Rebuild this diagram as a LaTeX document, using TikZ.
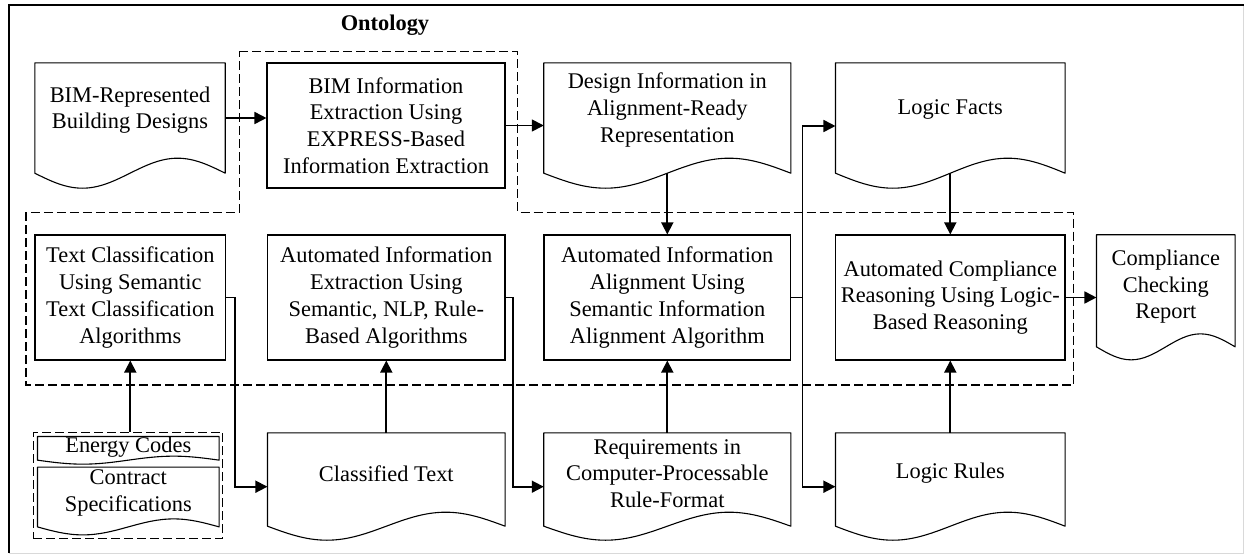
\documentclass[tikz,border=0pt]{standalone}
\usepackage{fontspec}
\setmainfont{Liberation Serif}
\usetikzlibrary{arrows.meta,calc}
\newcommand\labelfont{\fontsize{22.4}{26.7}\selectfont}
% wavy "document" outline drawn around a named frame node; #2 = wave amplitude
\newcommand\docoutline[2]{%
  \draw[docline] (#1.south west) -- (#1.north west) -- (#1.north east) -- (#1.south east)
    sin ($(#1.south east)!0.25!(#1.south west)+(0,-#2)$)
    cos ($(#1.south east)!0.5!(#1.south west)$)
    sin ($(#1.south east)!0.75!(#1.south west)+(0,#2)$)
    cos (#1.south west) -- cycle;}
\tikzset{
  procbox/.style={draw, line width=1.1pt, rectangle, inner sep=0pt, align=center, font=\labelfont},
  docframe/.style={rectangle, inner sep=0pt},
  doctext/.style={inner sep=0pt, align=center, font=\labelfont},
  docline/.style={line width=1.1pt, line join=round},
  groupline/.style={line width=1.2pt, dash pattern=on 9pt off 4pt},
  flow/.style={line width=1.7pt, -{Triangle[length=12pt,width=12pt]}},
}
\begin{document}
\begin{tikzpicture}[x=1pt,y=-1pt]
\useasboundingbox (0,0) rectangle (1245,554);
\fill[white] (0,0) rectangle (1245,554);
% outer frame
\draw[black!15, line width=1pt] (1243.5,5) -- (1243.5,553) -- (9,553);
\draw[line width=2.2pt] (9,553) -- (9,5) -- (1243.5,5);

% ontology group outline
\draw[groupline] (239.3,51.7) -- (517.7,51.7) -- (517.7,212.5) -- (1073.3,212.5)
  -- (1073.3,385) -- (26,385) -- (26,212.5) -- (239.3,212.5) -- cycle;
\node[font=\labelfont\bfseries] (onto) at (385,25) {Ontology};

% process boxes
\node[procbox, minimum width=238pt, minimum height=125pt] (bimext) at (386,125.5)
  {BIM Information\\Extraction Using\\EXPRESS-Based\\Information Extraction};
\node[procbox, minimum width=190.7pt, minimum height=125pt] (textcls) at (130.3,297.5)
  {Text Classification\\Using Semantic\\Text Classification\\Algorithms};
\node[procbox, minimum width=237.3pt, minimum height=125pt] (infoext) at (386.3,297.5)
  {Automated Information\\Extraction Using\\Semantic, NLP, Rule-\\Based Algorithms};
\node[procbox, minimum width=246.7pt, minimum height=125pt] (align) at (667.3,297.5)
  {Automated Information\\Alignment Using\\Semantic Information\\Alignment Algorithm};
\node[procbox, minimum width=229.3pt, minimum height=125pt] (reason) at (950.3,297.5)
  {Automated Compliance\\Reasoning Using Logic-\\Based Reasoning};

% document frames
\node[docframe, minimum width=190pt, minimum height=110pt] (bimrep) at (130,118) {};
\node[docframe, minimum width=246.7pt, minimum height=110pt] (design) at (667.3,118) {};
\node[docframe, minimum width=229.3pt, minimum height=110pt] (facts) at (950.3,118) {};
\node[docframe, minimum width=138.3pt, minimum height=111.7pt] (report) at (1165.8,290.8) {};
\node[docframe, minimum width=237.3pt, minimum height=93pt] (classified) at (386.3,479.5) {};
\node[docframe, minimum width=246.7pt, minimum height=93pt] (reqs) at (667.3,479.5) {};
\node[docframe, minimum width=229.3pt, minimum height=93pt] (rules) at (950.3,479.5) {};
\node[docframe, minimum width=181.3pt, minimum height=23.3pt] (energy) at (128.3,448.3) {};
\node[docframe, minimum width=181.3pt, minimum height=59.4pt] (contract) at (128.3,497) {};

\foreach \n/\a in {bimrep/15, design/15, facts/15, report/13, classified/14,
                   reqs/14, rules/14, energy/4, contract/8}{
  \docoutline{\n}{\a}
}

% document texts
\node[doctext] (bimrep-t) at ([yshift=8pt]bimrep.center) {BIM-Represented\\Building Designs};
\node[doctext] (design-t) at ([yshift=8pt]design.center) {Design Information in\\Alignment-Ready\\Representation};
\node[doctext] (facts-t) at ([yshift=8pt]facts.center) {Logic Facts};
\node[doctext] (report-t) at ([yshift=4pt]report.center) {Compliance\\Checking\\Report};
\node[doctext] (classified-t) at ([yshift=6pt]classified.center) {Classified Text};
\node[doctext] (reqs-t) at ([yshift=6pt]reqs.center) {Requirements in\\Computer-Processable\\Rule-Format};
\node[doctext] (rules-t) at ([yshift=6pt]rules.center) {Logic Rules};
\node[doctext] (energy-t) at ([yshift=1.5pt]energy.center) {Energy Codes};
\node[doctext] (contract-t) at ([yshift=4pt]contract.center) {Contract\\Specifications};

% source documents group
\node[draw, groupline, rectangle, inner sep=0pt, minimum width=189.4pt, minimum height=106.4pt]
  (srcs) at (128,485.5) {};

% connectors
\draw[flow] (bimrep.east) -- (bimrep.east -| bimext.west);
\draw[flow] (bimext.east) -- (bimext.east -| design.west);
\draw[flow] (design.south) -- (align.north);
\draw[flow] (facts.south) -- (reason.north);
\draw[flow] (rules.north) -- (reason.south);
\draw[flow] (reason.east) -- (reason.east -| report.west);
\draw[flow] (textcls.south |- srcs.north) -- (textcls.south);
\draw[flow] (classified.north) -- (infoext.south);
\draw[flow] (reqs.north) -- (align.south);

\coordinate (split) at ($(align.east)+(11.3,0)$);
\draw[flow] (align.east) -- (split) |- ([yshift=-8pt]facts.west);
\draw[flow] (split) |- ([yshift=-7.2pt]rules.west);
\draw[flow] (textcls.east) -- ++(8.6,0) |- ([yshift=-7.2pt]classified.west);
\draw[flow] (infoext.east) -- ++(7.7,0) |- ([yshift=-7.2pt]reqs.west);
\end{tikzpicture}
\end{document}
